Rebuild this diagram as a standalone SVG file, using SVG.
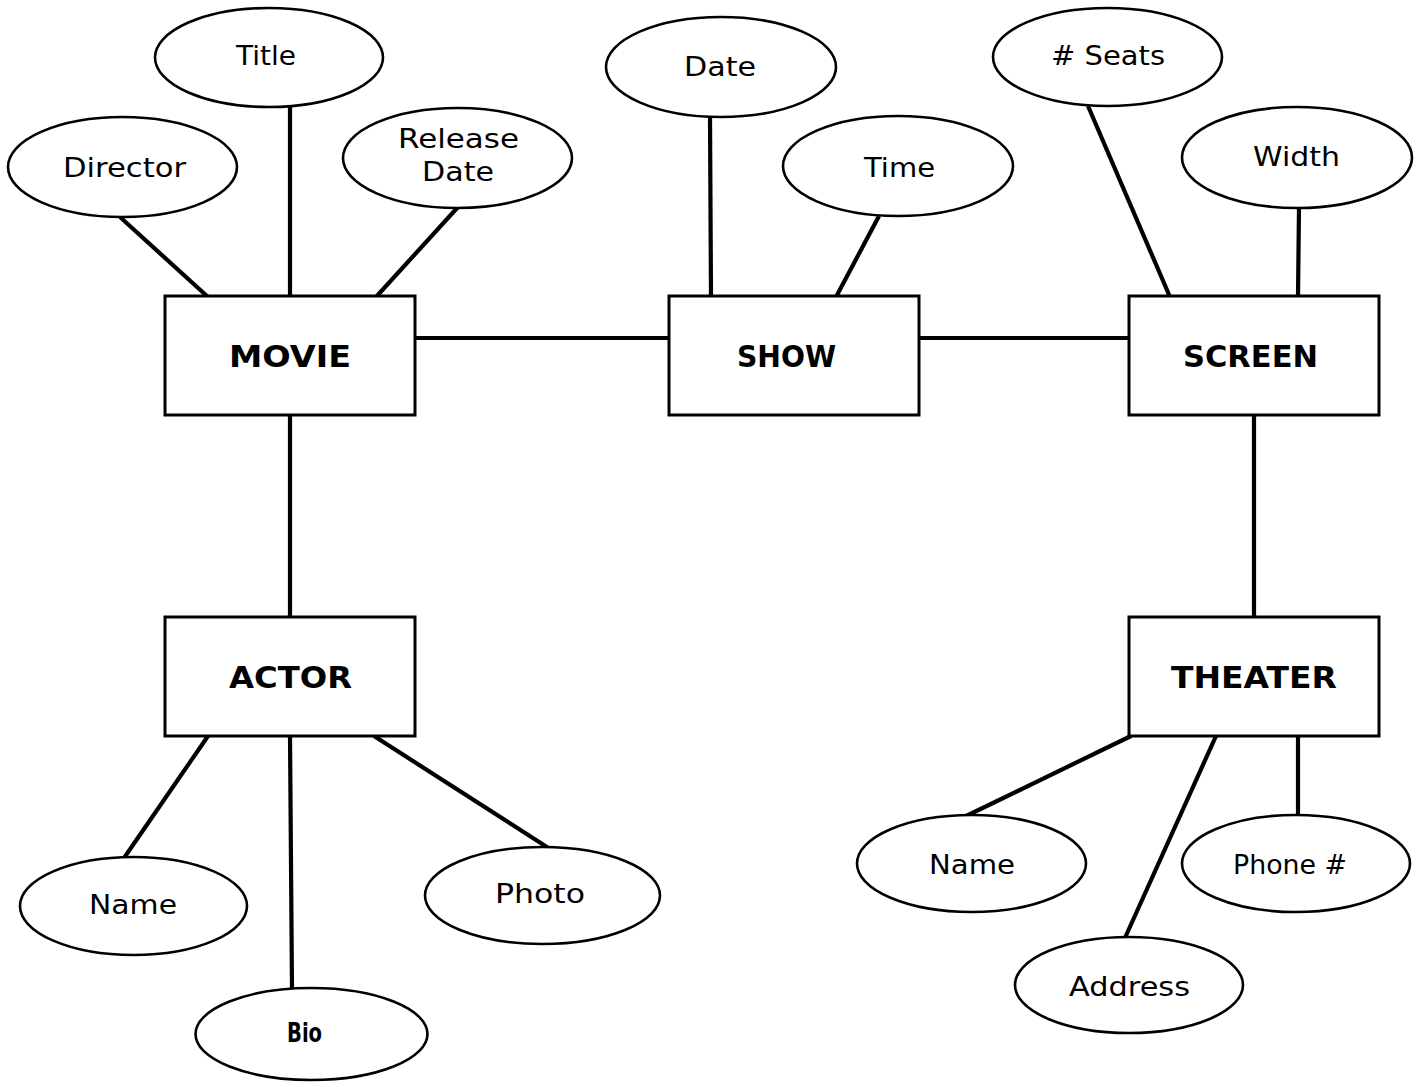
<svg xmlns="http://www.w3.org/2000/svg" width="1424" height="1087" viewBox="0 0 1424 1087">
  <style>
    .attr ellipse { fill: #fff; stroke: #000; stroke-width: 2.6; }
    .entity rect { fill: #fff; stroke: #000; stroke-width: 3; }
    .attr text { font-family: "DejaVu Sans", Verdana, sans-serif; font-size: 26px; fill: #000; }
    .entity text { font-family: "DejaVu Sans", Verdana, sans-serif; font-size: 30px; font-weight: bold; fill: #000; }
    #connectors line { stroke: #000; stroke-width: 4.2; stroke-linecap: butt; }
  </style>
  <rect width="1424" height="1087" fill="#fff"/>

  <g id="connectors">
    <line x1="120" y1="217" x2="208" y2="297"/>
    <line x1="290" y1="107" x2="290" y2="296"/>
    <line x1="458" y1="207" x2="376" y2="297"/>
    <line x1="415" y1="338" x2="669" y2="338"/>
    <line x1="710" y1="117" x2="711" y2="297"/>
    <line x1="879" y1="216" x2="836" y2="297"/>
    <line x1="919" y1="338" x2="1129" y2="338"/>
    <line x1="1088" y1="106" x2="1170" y2="297"/>
    <line x1="1299" y1="207" x2="1298" y2="297"/>
    <line x1="290" y1="415" x2="290" y2="617"/>
    <line x1="1254" y1="415" x2="1254" y2="617"/>
    <line x1="208" y1="736" x2="124" y2="858"/>
    <line x1="290" y1="736" x2="292" y2="990"/>
    <line x1="374" y1="736" x2="550" y2="849"/>
    <line x1="1131" y1="736" x2="962" y2="818"/>
    <line x1="1216" y1="736" x2="1124" y2="940"/>
    <line x1="1298" y1="736" x2="1298" y2="817"/>
  </g>

  <!-- MOVIE entity and attributes -->
  <g id="movie" class="entity">
    <rect x="165" y="296" width="250" height="119"/>
    <text x="290" y="367" text-anchor="middle" textLength="122" lengthAdjust="spacingAndGlyphs">MOVIE</text>
  </g>
  <g id="movie-title" class="attr">
    <ellipse cx="269" cy="57.5" rx="114" ry="49.5"/>
    <text x="266" y="65" text-anchor="middle" textLength="60" lengthAdjust="spacingAndGlyphs">Title</text>
  </g>
  <g id="movie-director" class="attr">
    <ellipse cx="122.5" cy="167" rx="114.5" ry="50"/>
    <text x="124.5" y="177" text-anchor="middle" textLength="123" lengthAdjust="spacingAndGlyphs">Director</text>
  </g>
  <g id="movie-release-date" class="attr">
    <ellipse cx="457.5" cy="158" rx="114.5" ry="50"/>
    <text x="458.5" y="148" text-anchor="middle" textLength="121" lengthAdjust="spacingAndGlyphs">Release</text>
    <text x="458" y="181" text-anchor="middle" textLength="72" lengthAdjust="spacingAndGlyphs">Date</text>
  </g>

  <!-- SHOW entity and attributes -->
  <g id="show" class="entity">
    <rect x="669" y="296" width="250" height="119"/>
    <text x="786.5" y="367" text-anchor="middle" textLength="99" lengthAdjust="spacingAndGlyphs">SHOW</text>
  </g>
  <g id="show-date" class="attr">
    <ellipse cx="721" cy="67" rx="115" ry="50"/>
    <text x="720" y="76" text-anchor="middle" textLength="72" lengthAdjust="spacingAndGlyphs">Date</text>
  </g>
  <g id="show-time" class="attr">
    <ellipse cx="898" cy="166" rx="115" ry="50"/>
    <text x="899.5" y="177" text-anchor="middle" textLength="71" lengthAdjust="spacingAndGlyphs">Time</text>
  </g>

  <!-- SCREEN entity and attributes -->
  <g id="screen" class="entity">
    <rect x="1129" y="296" width="250" height="119"/>
    <text x="1250.5" y="367" text-anchor="middle" textLength="135" lengthAdjust="spacingAndGlyphs">SCREEN</text>
  </g>
  <g id="screen-seats" class="attr">
    <ellipse cx="1107.5" cy="57" rx="114.5" ry="49"/>
    <text x="1108" y="65" text-anchor="middle" textLength="114" lengthAdjust="spacingAndGlyphs"># Seats</text>
  </g>
  <g id="screen-width" class="attr">
    <ellipse cx="1297" cy="157.5" rx="115" ry="50.5"/>
    <text x="1296.5" y="166" text-anchor="middle" textLength="87" lengthAdjust="spacingAndGlyphs">Width</text>
  </g>

  <!-- ACTOR entity and attributes -->
  <g id="actor" class="entity">
    <rect x="165" y="617" width="250" height="119"/>
    <text x="290.5" y="688" text-anchor="middle" textLength="123" lengthAdjust="spacingAndGlyphs">ACTOR</text>
  </g>
  <g id="actor-name" class="attr">
    <ellipse cx="133.5" cy="906" rx="113.5" ry="49"/>
    <text x="133" y="914" text-anchor="middle" textLength="88" lengthAdjust="spacingAndGlyphs">Name</text>
  </g>
  <g id="actor-bio" class="attr">
    <ellipse cx="311.5" cy="1034" rx="116" ry="46"/>
    <text x="304.5" y="1042" text-anchor="middle" font-size="23" textLength="35" lengthAdjust="spacingAndGlyphs" style="font-family:'DejaVu Sans Condensed','DejaVu Sans',sans-serif;font-weight:bold">Bio</text>
  </g>
  <g id="actor-photo" class="attr">
    <ellipse cx="542.5" cy="895.5" rx="117.5" ry="48.5"/>
    <text x="540" y="903" text-anchor="middle" textLength="90" lengthAdjust="spacingAndGlyphs">Photo</text>
  </g>

  <!-- THEATER entity and attributes -->
  <g id="theater" class="entity">
    <rect x="1129" y="617" width="250" height="119"/>
    <text x="1254" y="688" text-anchor="middle" textLength="166" lengthAdjust="spacingAndGlyphs">THEATER</text>
  </g>
  <g id="theater-name" class="attr">
    <ellipse cx="971.5" cy="863.5" rx="114.5" ry="48.5"/>
    <text x="972" y="874" text-anchor="middle" textLength="86" lengthAdjust="spacingAndGlyphs">Name</text>
  </g>
  <g id="theater-address" class="attr">
    <ellipse cx="1129" cy="985" rx="114" ry="48"/>
    <text x="1129.5" y="996" text-anchor="middle" textLength="121" lengthAdjust="spacingAndGlyphs">Address</text>
  </g>
  <g id="theater-phone" class="attr">
    <ellipse cx="1296" cy="863.5" rx="114" ry="48.5"/>
    <text x="1290" y="874" text-anchor="middle" textLength="114" lengthAdjust="spacingAndGlyphs">Phone #</text>
  </g>
</svg>
